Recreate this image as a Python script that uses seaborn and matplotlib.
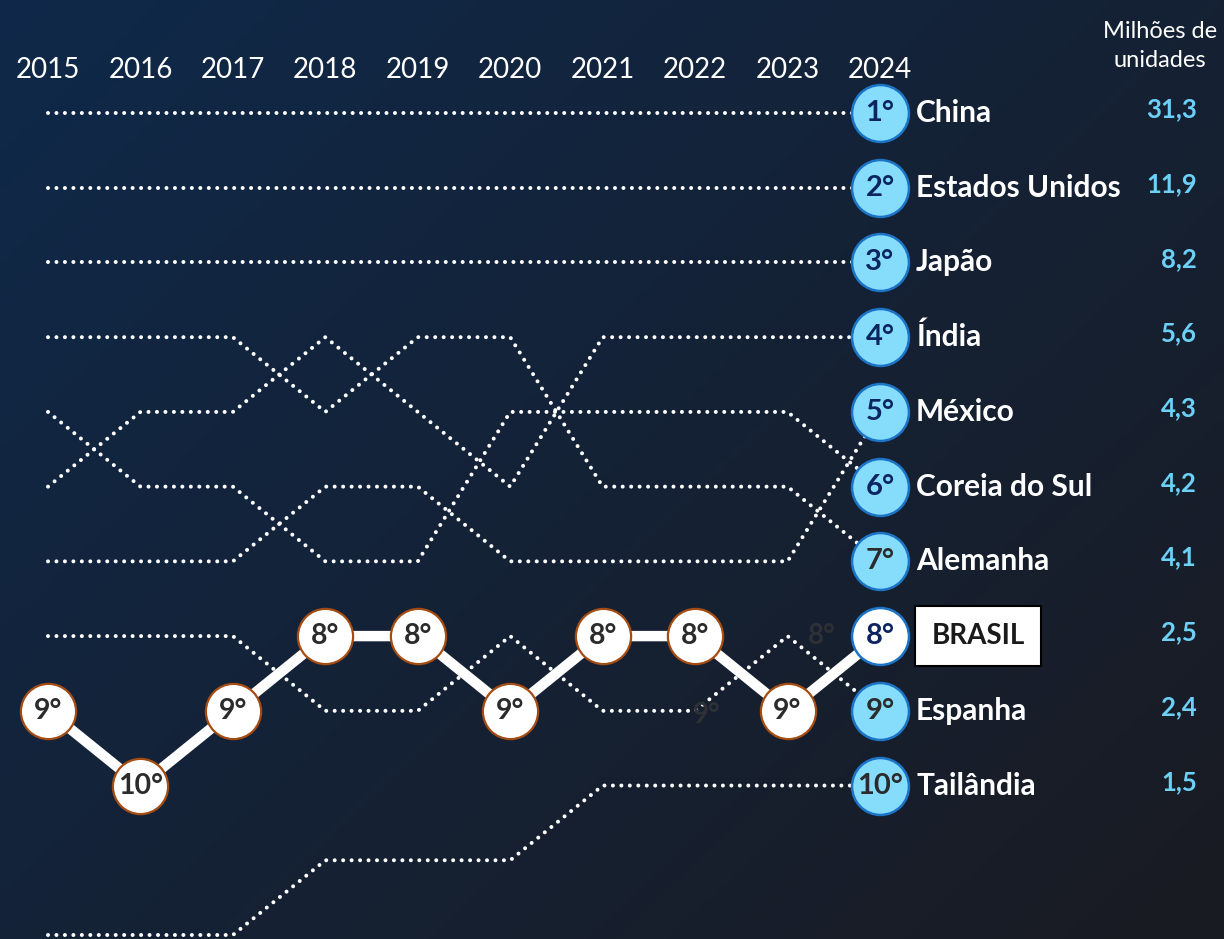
import numpy as np
import pandas as pd
import matplotlib
matplotlib.use("Agg")
import matplotlib.pyplot as plt
import seaborn as sns

# ---------------- data ----------------
years = [2015, 2016, 2017, 2018, 2019, 2020, 2021, 2022, 2023, 2024]
countries = ["China", "Estados Unidos", "Japão", "Índia", "México",
             "Coreia do Sul", "Alemanha", "BRASIL", "Espanha", "Tailândia"]
rank_china = [1, 1, 1, 1, 1, 1, 1, 1, 1, 1]
rank_eua = [2, 2, 2, 2, 2, 2, 2, 2, 2, 2]
rank_japao = [3, 3, 3, 3, 3, 3, 3, 3, 3, 3]
rank_india = [6, 5, 5, 4, 5, 6, 4, 4, 4, 4]
rank_mexico = [7, 7, 7, 6, 6, 7, 7, 7, 7, 5]
rank_coreia = [5, 6, 6, 7, 7, 5, 5, 5, 5, 6]
rank_alemanha = [4, 4, 4, 5, 4, 4, 6, 6, 6, 7]
rank_brasil = [9, 10, 9, 8, 8, 9, 8, 8, 9, 8]
rank_espanha = [8, 8, 8, 9, 9, 8, 9, 9, 8, 9]
rank_tailandia = [12, 12, 12, 11, 11, 11, 10, 10, 10, 10]
values_2024 = ["31,3", "11,9", "8,2", "5,6", "4,3", "4,2", "4,1", "2,5", "2,4", "1,5"]
unit_label = "Milhões de\nunidades"

ranks = {
    "China": rank_china, "Estados Unidos": rank_eua, "Japão": rank_japao,
    "Índia": rank_india, "México": rank_mexico, "Coreia do Sul": rank_coreia,
    "Alemanha": rank_alemanha, "BRASIL": rank_brasil, "Espanha": rank_espanha,
    "Tailândia": rank_tailandia,
}
df = pd.DataFrame([(c, y, r) for c in countries for y, r in zip(years, ranks[c])],
                  columns=["country", "year", "rank"])

# ---------------- style ----------------
sns.set_theme(style="white")
plt.rcParams["font.family"] = ["Lato", "DejaVu Sans"]

W, H = 1224, 939
fig = plt.figure(figsize=(W / 100, H / 100), dpi=100)
ax = fig.add_axes([0, 0, 1, 1])

# pixel mapping: 2015 -> 48px, 2024 -> 880px ; rank1 -> 113px, rank12 -> 935px
px_year = (880 - 48) / 9
px_rank = (935 - 113) / 11
x0 = 2015 - 48 / px_year
x1 = 2015 + (W - 48) / px_year
y_top = 1 - 113 / px_rank
y_bot = 1 + (H - 113) / px_rank
ax.set_xlim(x0, x1)
ax.set_ylim(y_bot, y_top)
ax.axis("off")

# background gradient (dark navy, diagonal)
gx, gy = np.meshgrid(np.linspace(0, 1, 300), np.linspace(0, 1, 240))
t = np.clip(0.55 * gx + 0.45 * gy, 0, 1)[..., None]
c_tl = np.array([15, 41, 74]) / 255
c_br = np.array([26, 27, 34]) / 255
grad = c_tl * (1 - t) + c_br * t
ax.imshow(grad, extent=[x0, x1, y_bot, y_top], aspect="auto", zorder=0,
          interpolation="bicubic")

# dotted lines for other countries
for c in countries:
    if c == "BRASIL":
        continue
    sub = df[df.country == c]
    sns.lineplot(data=sub, x="year", y="rank", ax=ax, color="white",
                 linewidth=2.9, linestyle=(0, (0.001, 2.1)),
                 dash_capstyle="round", estimator=None, legend=False, zorder=2)

# Brazil thick white line
bra = df[df.country == "BRASIL"]
sns.lineplot(data=bra, x="year", y="rank", ax=ax, color="white", linewidth=7.5,
             estimator=None, legend=False, zorder=3, solid_capstyle="round")

# ghost labels (faint stale labels)
ax.text(2023.37, 8.0, "8°", color="#2f3035", fontsize=20, fontweight="bold",
        ha="center", va="center", zorder=2.5)
ax.text(2022.12, 9.05, "9°", color="#2f3035", fontsize=20, fontweight="bold",
        ha="center", va="center", zorder=2.5)

# Brazil circles (years before 2024)
bra_hist = bra[bra.year < 2024]
sns.scatterplot(data=bra_hist, x="year", y="rank", ax=ax, s=1580, color="white",
                edgecolor="#a44c12", linewidth=1.6, legend=False, zorder=4)
for yr, rk in zip(bra_hist.year, bra_hist["rank"]):
    ax.text(yr, rk, f"{rk}°", color="#2b2b2b", fontsize=20.5, fontweight="bold",
            ha="center", va="center", zorder=5)

# 2024 column circles
last = df[df.year == 2024]
others = last[last.country != "BRASIL"]
sns.scatterplot(data=others, x="year", y="rank", ax=ax, s=1680, color="#86dcfb",
                edgecolor="#1b74c6", linewidth=1.8, legend=False, zorder=4)
sns.scatterplot(data=last[last.country == "BRASIL"], x="year", y="rank", ax=ax,
                s=1680, color="white", edgecolor="#1b74c6", linewidth=1.8,
                legend=False, zorder=4)
navy = "#0c2560"
dark = "#2b2b2b"
num_colors = {1: navy, 2: navy, 3: navy, 4: navy, 5: navy, 6: navy,
              7: dark, 8: navy, 9: dark, 10: dark}
for c, rk in zip(last.country, last["rank"]):
    ax.text(2024, rk, f"{rk}°", color=num_colors[rk], fontsize=21,
            fontweight="bold", ha="center", va="center", zorder=5)

# country names and values
for c, rk, v in zip(countries, [ranks[c][-1] for c in countries], values_2024):
    if c == "BRASIL":
        ax.text(2025.06, rk, c, color="#1a1a1a", fontsize=20, fontweight="bold",
                ha="center", va="center", zorder=5,
                bbox=dict(boxstyle="square,pad=0.6", fc="white", ec="black", lw=1.5))
    else:
        ax.text(2024.39, rk, c, color="white", fontsize=21.5, fontweight="bold",
                ha="left", va="center", zorder=5)
    ax.text(2027.43, rk - 0.05, v, color="#6dd0f7", fontsize=18.5, fontweight="bold",
            ha="right", va="center", zorder=5)

# year labels
for yr in years:
    ax.text(yr, 0.42, str(yr), color="white", fontsize=20, ha="center",
            va="center", zorder=5)

# unit label
ax.text(2027.03, 0.10, unit_label, color="white", fontsize=17, ha="center",
        va="center", linespacing=1.45, zorder=5)

fig.savefig("out.png", dpi=100)
